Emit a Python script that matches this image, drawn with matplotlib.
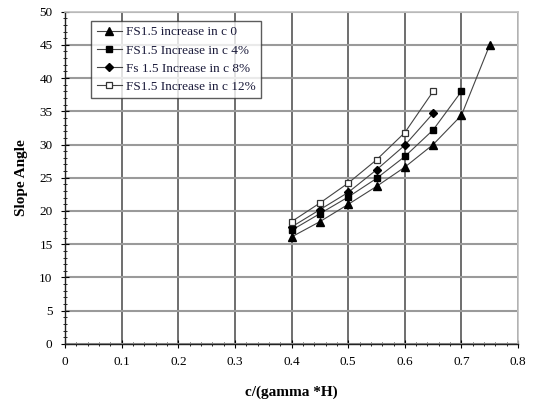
import matplotlib.pyplot as plt
from matplotlib.ticker import MultipleLocator

plt.rcParams['font.family'] = ['Liberation Serif', 'DejaVu Serif']

# data
ratio = [0.4, 0.45, 0.5, 0.55, 0.6, 0.65, 0.7, 0.75]
angle_c0 = [16.1, 18.4, 21.0, 23.7, 26.6, 30.0, 34.4, 45.0]
angle_c4 = [17.1, 19.6, 22.1, 24.9, 28.2, 32.2, 38.0]
angle_c8 = [17.6, 20.2, 22.8, 26.2, 29.9, 34.7]
angle_c12 = [18.4, 21.2, 24.2, 27.7, 31.8, 38.0]

labels = ['FS1.5 increase in c 0', 'FS1.5 Increase in c 4%',
          'Fs 1.5 Increase in c 8%', 'FS1.5 Increase in c 12%']

fig = plt.figure(figsize=(5.38, 3.99), dpi=100)
ax = fig.add_axes([0.121, 0.138, 0.842, 0.833])

line_col = '#444444'
ax.plot(ratio, angle_c0, color=line_col, lw=0.8, marker='^', ms=5.5,
        mfc='black', mec='black', label=labels[0], zorder=3)
ax.plot(ratio[:7], angle_c4, color=line_col, lw=0.8, marker='s', ms=5,
        mfc='black', mec='black', label=labels[1], zorder=3)
ax.plot(ratio[:6], angle_c8, color=line_col, lw=0.8, marker='D', ms=4,
        mfc='black', mec='black', label=labels[2], zorder=3)
ax.plot(ratio[:6], angle_c12, color=line_col, lw=0.8, marker='s', ms=4.5,
        mfc='white', mec='#333333', mew=0.9, label=labels[3], zorder=3)

ax.set_xlim(0, 0.8)
ax.set_ylim(0, 50)
ax.xaxis.set_major_locator(MultipleLocator(0.1))
ax.xaxis.set_minor_locator(MultipleLocator(0.02))
ax.yaxis.set_major_locator(MultipleLocator(5))
ax.yaxis.set_minor_locator(MultipleLocator(1))
ax.xaxis.set_major_formatter(plt.FuncFormatter(lambda v, p: '0' if abs(v) < 1e-9 else f'{v:.1f}'))

ax.tick_params(axis='both', which='major', direction='inout', length=6,
               width=0.8, labelsize=9.5, pad=6)
ax.tick_params(axis='both', which='minor', direction='inout', length=3, width=0.6)

# grid: vertical darker, horizontal lighter
ax.xaxis.grid(True, which='major', color='#555555', lw=1.2)
ax.yaxis.grid(True, which='major', color='#9a9a9a', lw=1.5)
ax.set_axisbelow(True)

for s in ['top', 'right']:
    ax.spines[s].set_color('#c0c0c0')
    ax.spines[s].set_linewidth(1.2)
for s in ['left', 'bottom']:
    ax.spines[s].set_color('#222222')
    ax.spines[s].set_linewidth(1.0)

ax.set_xlabel('c/(gamma *H)', fontsize=11, fontweight='bold', labelpad=12)
ax.set_ylabel('Slope Angle', fontsize=11, fontweight='bold', labelpad=8)

leg = ax.legend(loc='upper left', bbox_to_anchor=(0.058, 0.972), fontsize=9.5,
                frameon=True, fancybox=False, edgecolor='#333333',
                handlelength=1.9, handletextpad=0.3, borderpad=0.4,
                labelspacing=0.45, borderaxespad=0)
leg.get_frame().set_linewidth(1.0)
for t in leg.get_texts():
    t.set_color('#1a1a3a')

fig.savefig('out.png', dpi=100)
